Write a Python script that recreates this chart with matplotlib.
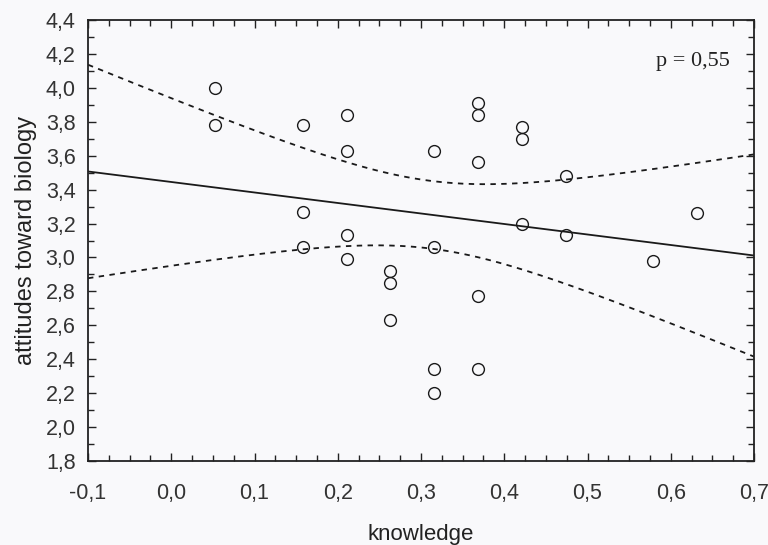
import matplotlib
matplotlib.use("Agg")
import matplotlib.pyplot as plt
from matplotlib.ticker import MultipleLocator, FuncFormatter
import numpy as np

# knowledge scores (k/19) and attitude scores
knowledge = [0.053, 0.053,
             0.158, 0.158, 0.158,
             0.211, 0.211, 0.211, 0.211,
             0.263, 0.263, 0.263,
             0.316, 0.316, 0.316, 0.316,
             0.368, 0.368, 0.368, 0.368, 0.368,
             0.421, 0.421, 0.421,
             0.474, 0.474,
             0.579, 0.632]
attitudes = [4.00, 3.78,
             3.78, 3.27, 3.06,
             3.84, 3.63, 3.13, 2.99,
             2.92, 2.85, 2.63,
             3.63, 3.06, 2.34, 2.20,
             3.91, 3.84, 3.56, 2.77, 2.34,
             3.77, 3.70, 3.20,
             3.48, 3.13,
             2.98, 3.26]
p_text = "p = 0,55"

x = np.array(knowledge)
y = np.array(attitudes)
n = len(x)

# linear fit + 95% confidence band of the mean
slope, icpt = np.polyfit(x, y, 1)
xs = np.linspace(-0.1, 0.7, 200)
fit = icpt + slope * xs
resid = y - (icpt + slope * x)
s = np.sqrt(np.sum(resid**2) / (n - 2))
sxx = np.sum((x - x.mean())**2)
t = 2.056  # t(0.975, 26)
half = t * s * np.sqrt(1.0 / n + (xs - x.mean())**2 / sxx)

plt.rcParams['font.family'] = ['Liberation Sans', 'DejaVu Sans']

fig = plt.figure(figsize=(7.68, 5.45), dpi=100)
fig.patch.set_facecolor('#f9f9fb')
ax = fig.add_axes([0.1146, 0.1541, 0.8672, 0.8092])
ax.set_facecolor('#f9f9fb')

ax.plot(xs, fit, color='#1a1a1a', lw=1.3)
ax.plot(xs, fit + half, color='#1a1a1a', lw=1.3, ls=(0, (3, 3)))
ax.plot(xs, fit - half, color='#1a1a1a', lw=1.3, ls=(0, (3, 3)))
ax.plot(x, y, 'o', markersize=8.5, markerfacecolor='none',
        markeredgecolor='#1a1a1a', markeredgewidth=1.0)

ax.set_xlim(-0.1, 0.7)
ax.set_ylim(1.8, 4.4)
ax.xaxis.set_major_locator(MultipleLocator(0.1))
ax.xaxis.set_minor_locator(MultipleLocator(0.025))
ax.yaxis.set_major_locator(MultipleLocator(0.2))
ax.yaxis.set_minor_locator(MultipleLocator(0.1))
comma = FuncFormatter(lambda v, pos: ("%.1f" % v).replace('.', ','))
ax.xaxis.set_major_formatter(comma)
ax.yaxis.set_major_formatter(comma)

ax.tick_params(which='both', direction='in', top=True, right=True,
               color='#222222', width=1.0, labelsize=15.5, labelcolor='#333333')
ax.tick_params(which='major', length=6)
ax.tick_params(which='minor', length=4)
ax.tick_params(axis='x', which='major', pad=16)
ax.tick_params(axis='y', which='major', pad=9)
for sp in ax.spines.values():
    sp.set_linewidth(1.3)
    sp.set_color('#222222')

ax.set_xlabel('knowledge', fontsize=16, color='#222222', labelpad=14)
ax.set_ylabel('attitudes toward biology', fontsize=17, color='#222222', labelpad=6)

ax.text(0.964, 0.905, p_text, transform=ax.transAxes, ha='right', va='center',
        fontsize=16, family=['Liberation Serif', 'DejaVu Serif'], color='#222222')

fig.savefig('out.png', dpi=100, facecolor=fig.get_facecolor())
